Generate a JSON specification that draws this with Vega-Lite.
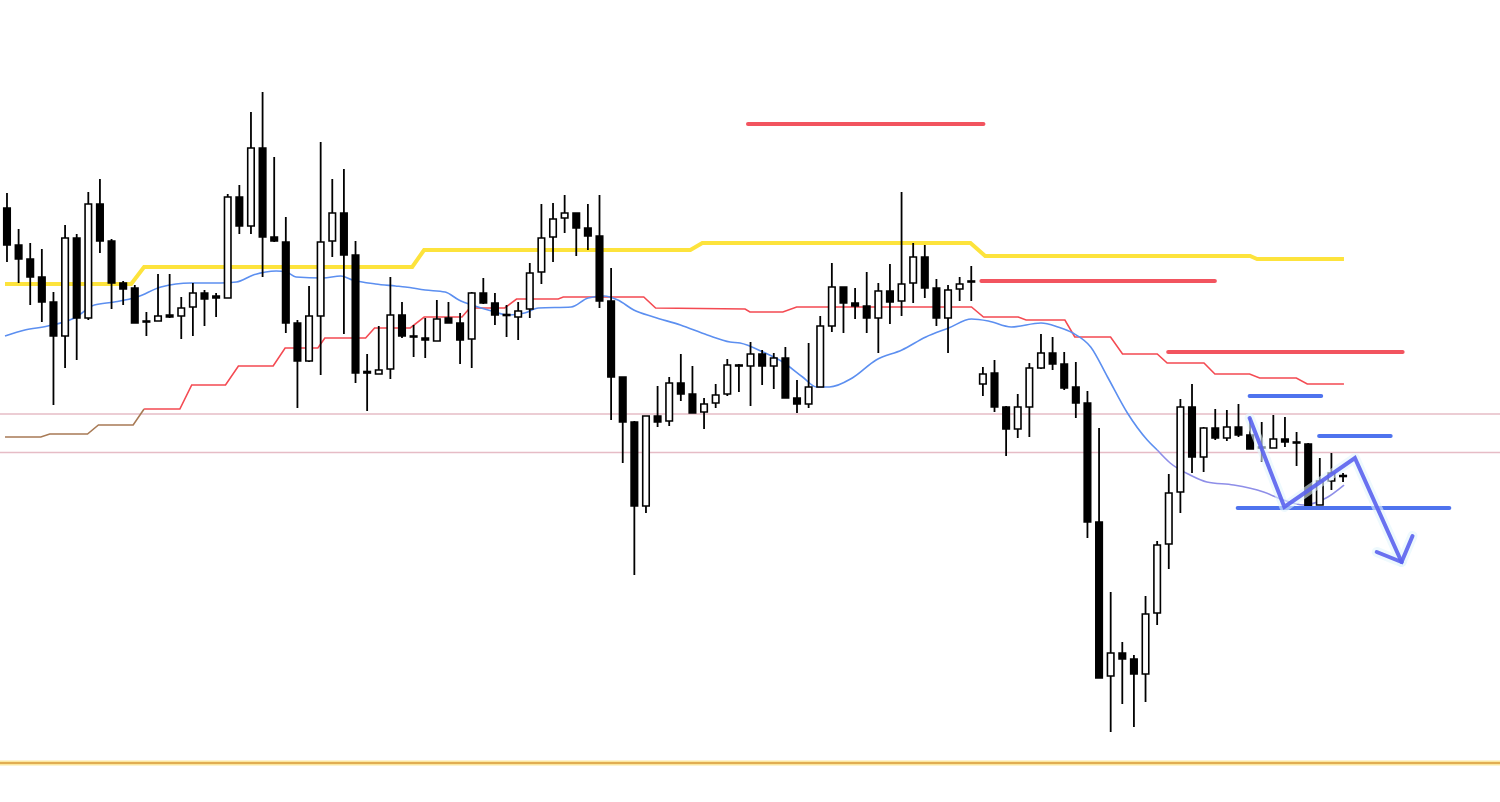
{
"$schema":"https://vega.github.io/schema/vega-lite/v6.json",
"width":1500,"height":802,"autosize":{"type":"none"},"padding":0,
"background":"#ffffff",
"config":{"view":{"stroke":null}},
"datasets":{
"candles":[
{"i":0,"O":149.92,"H":150.07,"L":149.38,"C":149.55},
{"i":1,"O":149.55,"H":149.71,"L":149.17,"C":149.41},
{"i":2,"O":149.41,"H":149.57,"L":148.95,"C":149.23},
{"i":3,"O":149.23,"H":149.51,"L":148.78,"C":148.98},
{"i":4,"O":148.98,"H":149.08,"L":147.95,"C":148.64},
{"i":5,"O":148.64,"H":149.75,"L":148.32,"C":149.62},
{"i":6,"O":149.62,"H":149.66,"L":148.40,"C":148.82},
{"i":7,"O":148.82,"H":150.08,"L":148.80,"C":149.96},
{"i":8,"O":149.96,"H":150.21,"L":149.47,"C":149.59},
{"i":9,"O":149.59,"H":149.61,"L":148.91,"C":149.17},
{"i":10,"O":149.17,"H":149.19,"L":148.95,"C":149.11},
{"i":11,"O":149.12,"H":149.15,"L":148.77,"C":148.77},
{"i":12,"O":148.78,"H":148.88,"L":148.64,"C":148.79},
{"i":13,"O":148.79,"H":149.26,"L":148.79,"C":148.84},
{"i":14,"O":148.85,"H":149.26,"L":148.82,"C":148.83},
{"i":15,"O":148.84,"H":149.03,"L":148.61,"C":148.92},
{"i":16,"O":148.93,"H":149.17,"L":148.64,"C":149.07},
{"i":17,"O":149.07,"H":149.10,"L":148.74,"C":149.01},
{"i":18,"O":149.04,"H":149.07,"L":148.83,"C":149.02},
{"i":19,"O":149.02,"H":150.06,"L":149.02,"C":150.03},
{"i":20,"O":150.03,"H":150.15,"L":149.66,"C":149.74},
{"i":21,"O":149.74,"H":150.88,"L":149.66,"C":150.52},
{"i":22,"O":150.52,"H":151.08,"L":149.23,"C":149.63},
{"i":23,"O":149.63,"H":150.43,"L":149.58,"C":149.59},
{"i":24,"O":149.58,"H":149.83,"L":148.67,"C":148.77},
{"i":25,"O":148.77,"H":148.80,"L":147.92,"C":148.39},
{"i":26,"O":148.39,"H":149.14,"L":148.38,"C":148.84},
{"i":27,"O":148.84,"H":150.58,"L":148.25,"C":149.58},
{"i":28,"O":149.59,"H":150.21,"L":149.43,"C":149.87},
{"i":29,"O":149.87,"H":150.31,"L":148.66,"C":149.45},
{"i":30,"O":149.45,"H":149.59,"L":148.17,"C":148.27},
{"i":31,"O":148.27,"H":148.46,"L":147.89,"C":148.285},
{"i":32,"O":148.26,"H":148.74,"L":148.26,"C":148.30},
{"i":33,"O":148.31,"H":149.23,"L":148.21,"C":148.85},
{"i":34,"O":148.85,"H":148.98,"L":148.62,"C":148.64},
{"i":35,"O":148.64,"H":148.75,"L":148.43,"C":148.63},
{"i":36,"O":148.62,"H":148.82,"L":148.42,"C":148.60},
{"i":37,"O":148.59,"H":149.00,"L":148.59,"C":148.81},
{"i":38,"O":148.82,"H":148.98,"L":148.77,"C":148.77},
{"i":39,"O":148.77,"H":148.87,"L":148.36,"C":148.60},
{"i":40,"O":148.61,"H":149.08,"L":148.32,"C":149.07},
{"i":41,"O":149.07,"H":149.22,"L":148.96,"C":148.97},
{"i":42,"O":148.97,"H":149.07,"L":148.75,"C":148.85},
{"i":43,"O":148.855,"H":148.95,"L":148.63,"C":148.845},
{"i":44,"O":148.83,"H":148.98,"L":148.60,"C":148.89},
{"i":45,"O":148.91,"H":149.37,"L":148.82,"C":149.27},
{"i":46,"O":149.28,"H":149.96,"L":149.16,"C":149.62},
{"i":47,"O":149.63,"H":149.97,"L":149.38,"C":149.81},
{"i":48,"O":149.82,"H":150.05,"L":149.67,"C":149.87},
{"i":49,"O":149.87,"H":149.87,"L":149.44,"C":149.72},
{"i":50,"O":149.72,"H":149.96,"L":149.50,"C":149.64},
{"i":51,"O":149.64,"H":150.05,"L":148.92,"C":148.99},
{"i":52,"O":148.99,"H":149.32,"L":147.80,"C":148.23},
{"i":53,"O":148.23,"H":148.23,"L":147.37,"C":147.78},
{"i":54,"O":147.78,"H":147.79,"L":146.25,"C":146.94},
{"i":55,"O":146.94,"H":147.84,"L":146.87,"C":147.84},
{"i":56,"O":147.84,"H":148.14,"L":147.73,"C":147.78},
{"i":57,"O":147.79,"H":148.23,"L":147.74,"C":148.17},
{"i":58,"O":148.17,"H":148.46,"L":147.99,"C":148.06},
{"i":59,"O":148.06,"H":148.34,"L":147.87,"C":147.87},
{"i":60,"O":147.88,"H":148.02,"L":147.71,"C":147.96},
{"i":61,"O":147.97,"H":148.16,"L":147.92,"C":148.05},
{"i":62,"O":148.06,"H":148.41,"L":148.04,"C":148.35},
{"i":63,"O":148.35,"H":148.36,"L":148.08,"C":148.34},
{"i":64,"O":148.34,"H":148.58,"L":147.94,"C":148.46},
{"i":65,"O":148.46,"H":148.50,"L":148.15,"C":148.34},
{"i":66,"O":148.34,"H":148.47,"L":148.11,"C":148.42},
{"i":67,"O":148.42,"H":148.53,"L":148.02,"C":148.02},
{"i":68,"O":148.02,"H":148.20,"L":147.87,"C":147.96},
{"i":69,"O":147.96,"H":148.57,"L":147.92,"C":148.13},
{"i":70,"O":148.13,"H":148.84,"L":148.13,"C":148.74},
{"i":71,"O":148.74,"H":149.37,"L":148.68,"C":149.13},
{"i":72,"O":149.13,"H":149.13,"L":148.67,"C":148.97},
{"i":73,"O":148.97,"H":149.12,"L":148.81,"C":148.94},
{"i":74,"O":148.94,"H":149.28,"L":148.67,"C":148.82},
{"i":75,"O":148.82,"H":149.17,"L":148.47,"C":149.09},
{"i":76,"O":149.09,"H":149.36,"L":148.76,"C":148.98},
{"i":77,"O":148.99,"H":150.08,"L":148.84,"C":149.16},
{"i":78,"O":149.17,"H":149.57,"L":148.97,"C":149.43},
{"i":79,"O":149.43,"H":149.55,"L":149.02,"C":149.12},
{"i":80,"O":149.12,"H":149.21,"L":148.74,"C":148.82},
{"i":81,"O":148.82,"H":149.15,"L":148.47,"C":149.10},
{"i":82,"O":149.11,"H":149.23,"L":148.99,"C":149.16},
{"i":83,"O":149.19,"H":149.34,"L":148.99,"C":149.18},
{"i":84,"O":148.16,"H":148.33,"L":148.04,"C":148.26},
{"i":85,"O":148.27,"H":148.40,"L":147.88,"C":147.93},
{"i":86,"O":147.93,"H":147.94,"L":147.44,"C":147.71},
{"i":87,"O":147.71,"H":148.06,"L":147.62,"C":147.93},
{"i":88,"O":147.93,"H":148.37,"L":147.63,"C":148.32},
{"i":89,"O":148.32,"H":148.66,"L":148.31,"C":148.47},
{"i":90,"O":148.47,"H":148.63,"L":148.30,"C":148.36},
{"i":91,"O":148.36,"H":148.48,"L":148.10,"C":148.12},
{"i":92,"O":148.13,"H":148.38,"L":147.82,"C":147.97},
{"i":93,"O":147.97,"H":148.09,"L":146.62,"C":146.78},
{"i":94,"O":146.78,"H":147.72,"L":145.22,"C":145.22},
{"i":95,"O":145.24,"H":146.08,"L":144.68,"C":145.47},
{"i":96,"O":145.47,"H":145.58,"L":144.96,"C":145.41},
{"i":97,"O":145.41,"H":145.45,"L":144.73,"C":145.26},
{"i":98,"O":145.26,"H":146.04,"L":144.98,"C":145.86},
{"i":99,"O":145.87,"H":146.59,"L":145.75,"C":146.55},
{"i":100,"O":146.56,"H":147.26,"L":146.31,"C":147.07},
{"i":101,"O":147.08,"H":148.01,"L":146.87,"C":147.93},
{"i":102,"O":147.93,"H":148.16,"L":147.27,"C":147.43},
{"i":103,"O":147.43,"H":147.73,"L":147.28,"C":147.72},
{"i":104,"O":147.72,"H":147.91,"L":147.60,"C":147.62},
{"i":105,"O":147.62,"H":147.90,"L":147.59,"C":147.73},
{"i":106,"O":147.73,"H":147.96,"L":147.63,"C":147.65},
{"i":107,"O":147.65,"H":147.82,"L":147.51,"C":147.51},
{"i":108,"O":147.53,"H":147.78,"L":147.38,"C":147.52},
{"i":109,"O":147.52,"H":147.85,"L":147.52,"C":147.61},
{"i":110,"O":147.61,"H":147.83,"L":147.53,"C":147.58},
{"i":111,"O":147.58,"H":147.68,"L":147.34,"C":147.57},
{"i":112,"O":147.56,"H":147.57,"L":146.93,"C":146.94},
{"i":113,"O":146.95,"H":147.42,"L":146.95,"C":147.19},
{"i":114,"O":147.19,"H":147.47,"L":147.10,"C":147.27},
{"i":115,"O":147.245,"H":147.27,"L":147.18,"C":147.235}
],
"yellow":[
{"i":-0.17,"p":149.16},{"i":10.69,"p":149.16},{"i":11.8,"p":149.33},{"i":34.88,"p":149.33},{"i":35.9,"p":149.50},{"i":58.82,"p":149.50},{"i":59.85,"p":149.57},{"i":82.93,"p":149.57},{"i":84.2,"p":149.44},{"i":107.0,"p":149.44},{"i":107.6,"p":149.41},{"i":115.08,"p":149.41}
],
"brown":[
{"i":-0.17,"p":147.63},{"i":2.91,"p":147.63},{"i":3.68,"p":147.66},{"i":6.93,"p":147.66},{"i":7.87,"p":147.75},{"i":10.86,"p":147.75},{"i":11.8,"p":147.91}
],
"red":[
{"i":11.8,"p":147.91},{"i":14.88,"p":147.91},{"i":15.9,"p":148.15},{"i":18.81,"p":148.15},{"i":19.92,"p":148.34},{"i":22.91,"p":148.34},{"i":23.94,"p":148.52},{"i":26.76,"p":148.52},{"i":27.36,"p":148.62},{"i":30.87,"p":148.62},{"i":31.64,"p":148.72},{"i":34.71,"p":148.72},{"i":35.91,"p":148.83},{"i":39.16,"p":148.83},{"i":39.84,"p":148.92},{"i":42.84,"p":148.92},{"i":43.86,"p":149.01},{"i":47.45,"p":149.01},{"i":47.88,"p":149.03},{"i":54.81,"p":149.03},{"i":55.83,"p":148.92},{"i":63.53,"p":148.91},{"i":63.95,"p":148.88},{"i":66.78,"p":148.88},{"i":67.97,"p":148.93},{"i":83.02,"p":148.93},{"i":84.05,"p":148.83},{"i":87.04,"p":148.83},{"i":87.72,"p":148.80},{"i":91.06,"p":148.80},{"i":91.91,"p":148.63},{"i":94.99,"p":148.63},{"i":96.02,"p":148.46},{"i":99.01,"p":148.46},{"i":99.86,"p":148.37},{"i":103.03,"p":148.37},{"i":103.97,"p":148.26},{"i":106.96,"p":148.26},{"i":107.82,"p":148.22},{"i":110.98,"p":148.22},{"i":111.92,"p":148.16},{"i":115.08,"p":148.16}
],
"ma":[
{"i":-0.17,"p":148.64},{"i":1.54,"p":148.70},{"i":3.51,"p":148.74},{"i":5.81,"p":148.82},{"i":7.52,"p":148.95},{"i":9.23,"p":148.98},{"i":11.2,"p":149.03},{"i":13.25,"p":149.13},{"i":15.82,"p":149.17},{"i":18.38,"p":149.17},{"i":19.75,"p":149.18},{"i":21.2,"p":149.25},{"i":23.17,"p":149.29},{"i":24.03,"p":149.28},{"i":24.88,"p":149.23},{"i":27.19,"p":149.22},{"i":28.73,"p":149.24},{"i":29.75,"p":149.20},{"i":31.72,"p":149.16},{"i":33.43,"p":149.14},{"i":34.29,"p":149.13},{"i":36.0,"p":149.10},{"i":37.71,"p":149.08},{"i":38.9,"p":149.00},{"i":40.27,"p":148.94},{"i":41.72,"p":148.89},{"i":43.18,"p":148.85},{"i":44.55,"p":148.87},{"i":45.74,"p":148.92},{"i":48.56,"p":148.93},{"i":50.02,"p":149.02},{"i":51.38,"p":149.04},{"i":52.58,"p":149.00},{"i":53.95,"p":148.90},{"i":55.66,"p":148.83},{"i":57.97,"p":148.75},{"i":60.28,"p":148.65},{"i":62.24,"p":148.58},{"i":63.1,"p":148.57},{"i":65.07,"p":148.48},{"i":66.77,"p":148.38},{"i":68.48,"p":148.23},{"i":69.68,"p":148.13},{"i":70.79,"p":148.13},{"i":72.76,"p":148.22},{"i":74.81,"p":148.40},{"i":77.03,"p":148.50},{"i":79.09,"p":148.63},{"i":81.05,"p":148.72},{"i":83.02,"p":148.81},{"i":84.47,"p":148.79},{"i":86.44,"p":148.73},{"i":89.0,"p":148.77},{"i":90.46,"p":148.73},{"i":91.74,"p":148.67},{"i":93.28,"p":148.53},{"i":94.73,"p":148.23},{"i":96.44,"p":147.87},{"i":98.15,"p":147.60},{"i":99.01,"p":147.50}
],
"matail":[
{"i":99.01,"p":147.50},{"i":100.12,"p":147.37},{"i":101.83,"p":147.25},{"i":103.28,"p":147.18},{"i":105.59,"p":147.15},{"i":108.16,"p":147.08},{"i":109.87,"p":147.00},{"i":111.58,"p":146.95},{"i":113.54,"p":147.02},{"i":115.08,"p":147.15}
],
"redsegs":[
{"a":63.78,"b":84.05,"p":150.76},{"a":83.87,"b":103.97,"p":149.19},{"a":99.95,"b":120.13,"p":148.48}
],
"bluesegs":[
{"a":106.96,"b":113.12,"p":148.04},{"a":112.94,"b":119.10,"p":147.64},{"a":105.93,"b":124.15,"p":146.92}
],
"arrow":[
{"g":"path","o":1,"i":106.96,"p":147.82},{"g":"path","o":2,"i":109.95,"p":146.93},{"g":"path","o":3,"i":116.02,"p":147.42},{"g":"path","o":4,"i":120.04,"p":146.38},
{"g":"head","o":1,"i":117.9,"p":146.48},{"g":"head","o":2,"i":120.04,"p":146.38},{"g":"head","o":3,"i":120.98,"p":146.64}
],
"pink":[{"p":147.86},{"p":147.475}],
"orange":[{"p":144.37}]
},
"layer":[
{"data":{"name":"pink"},"mark":{"type":"rule","color":"#e6bcc6","strokeWidth":1.5},
 "encoding":{"y":{"field":"p","type":"quantitative","scale":{"domain":[143.98,152.0],"nice":false,"zero":false},"axis":null}}},
{"data":{"name":"orange"},"mark":{"type":"rule","color":"#fbe8a0","strokeWidth":5},
 "encoding":{"y":{"field":"p","type":"quantitative","scale":{"domain":[143.98,152.0],"nice":false,"zero":false},"axis":null}}},
{"data":{"name":"orange"},"mark":{"type":"rule","color":"#d99a3a","strokeWidth":1.5},
 "encoding":{"y":{"field":"p","type":"quantitative","scale":{"domain":[143.98,152.0],"nice":false,"zero":false},"axis":null}}},
{"data":{"name":"yellow"},"mark":{"type":"line","color":"#fde33c","strokeWidth":4},
 "encoding":{"x":{"field":"i","type":"quantitative","scale":{"domain":[-0.171,128.08],"nice":false,"zero":false},"axis":null},
  "y":{"field":"p","type":"quantitative","scale":{"domain":[143.98,152.0],"nice":false,"zero":false},"axis":null}}},
{"data":{"name":"brown"},"mark":{"type":"line","color":"#a87a55","strokeWidth":1.6},
 "encoding":{"x":{"field":"i","type":"quantitative","scale":{"domain":[-0.171,128.08],"nice":false,"zero":false},"axis":null},
  "y":{"field":"p","type":"quantitative","scale":{"domain":[143.98,152.0],"nice":false,"zero":false},"axis":null}}},
{"data":{"name":"red"},"mark":{"type":"line","color":"#f44a52","strokeWidth":1.6},
 "encoding":{"x":{"field":"i","type":"quantitative","scale":{"domain":[-0.171,128.08],"nice":false,"zero":false},"axis":null},
  "y":{"field":"p","type":"quantitative","scale":{"domain":[143.98,152.0],"nice":false,"zero":false},"axis":null}}},
{"data":{"name":"ma"},"mark":{"type":"line","color":"#5c8ff0","strokeWidth":1.6,"interpolate":"monotone"},
 "encoding":{"x":{"field":"i","type":"quantitative","scale":{"domain":[-0.171,128.08],"nice":false,"zero":false},"axis":null},
  "y":{"field":"p","type":"quantitative","scale":{"domain":[143.98,152.0],"nice":false,"zero":false},"axis":null}}},
{"data":{"name":"matail"},"mark":{"type":"line","color":"#8e8ee8","strokeWidth":1.6,"interpolate":"monotone"},
 "encoding":{"x":{"field":"i","type":"quantitative","scale":{"domain":[-0.171,128.08],"nice":false,"zero":false},"axis":null},
  "y":{"field":"p","type":"quantitative","scale":{"domain":[143.98,152.0],"nice":false,"zero":false},"axis":null}}},
{"data":{"name":"candles"},"mark":{"type":"rule","color":"#000000","strokeWidth":1.8},
 "encoding":{"x":{"field":"i","type":"quantitative","scale":{"domain":[-0.171,128.08],"nice":false,"zero":false},"axis":null},
  "y":{"field":"L","type":"quantitative","scale":{"domain":[143.98,152.0],"nice":false,"zero":false},"axis":null},
  "y2":{"field":"H"}}},
{"data":{"name":"candles"},"mark":{"type":"bar","width":6.5,"stroke":"#000000","strokeWidth":1.6},
 "encoding":{"x":{"field":"i","type":"quantitative","scale":{"domain":[-0.171,128.08],"nice":false,"zero":false},"axis":null},
  "y":{"field":"O","type":"quantitative","scale":{"domain":[143.98,152.0],"nice":false,"zero":false},"axis":null},
  "y2":{"field":"C"},
  "fill":{"condition":{"test":"datum.C > datum.O","value":"#ffffff"},"value":"#000000"}}},
{"data":{"name":"redsegs"},"mark":{"type":"rule","color":"#f2545f","strokeWidth":4,"strokeCap":"round"},
 "encoding":{"x":{"field":"a","type":"quantitative","scale":{"domain":[-0.171,128.08],"nice":false,"zero":false},"axis":null},
  "x2":{"field":"b"},
  "y":{"field":"p","type":"quantitative","scale":{"domain":[143.98,152.0],"nice":false,"zero":false},"axis":null}}},
{"data":{"name":"bluesegs"},"mark":{"type":"rule","color":"#4f73ee","strokeWidth":4,"strokeCap":"round"},
 "encoding":{"x":{"field":"a","type":"quantitative","scale":{"domain":[-0.171,128.08],"nice":false,"zero":false},"axis":null},
  "x2":{"field":"b"},
  "y":{"field":"p","type":"quantitative","scale":{"domain":[143.98,152.0],"nice":false,"zero":false},"axis":null}}},
{"data":{"name":"arrow"},"mark":{"type":"line","color":"#e3f5fb","strokeWidth":10,"opacity":0.6,"strokeCap":"round","strokeJoin":"round"},
 "encoding":{"x":{"field":"i","type":"quantitative","scale":{"domain":[-0.171,128.08],"nice":false,"zero":false},"axis":null},
  "y":{"field":"p","type":"quantitative","scale":{"domain":[143.98,152.0],"nice":false,"zero":false},"axis":null},
  "detail":{"field":"g"},"order":{"field":"o"}}},
{"data":{"name":"arrow"},"mark":{"type":"line","color":"#5a62ee","strokeWidth":4,"opacity":0.9,"strokeCap":"round","strokeJoin":"miter"},
 "encoding":{"x":{"field":"i","type":"quantitative","scale":{"domain":[-0.171,128.08],"nice":false,"zero":false},"axis":null},
  "y":{"field":"p","type":"quantitative","scale":{"domain":[143.98,152.0],"nice":false,"zero":false},"axis":null},
  "detail":{"field":"g"},"order":{"field":"o"}}}
]
}
